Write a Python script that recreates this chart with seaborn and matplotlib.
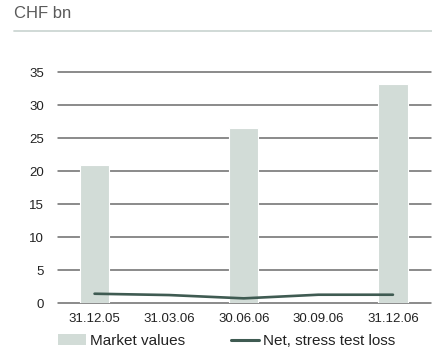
import numpy as np
import pandas as pd
import matplotlib
matplotlib.use("Agg")
import matplotlib.pyplot as plt
from matplotlib.lines import Line2D
from matplotlib.patches import Patch
import seaborn as sns

# Data (CHF bn)
dates = ["31.12.05", "31.03.06", "30.06.06", "30.09.06", "31.12.06"]
market_values = [20.9, np.nan, 26.5, np.nan, 33.3]
stress_loss = [1.45, 1.25, 0.75, 1.3, 1.3]
y_ticks = [0, 5, 10, 15, 20, 25, 30, 35]

bar_color = "#d2dcd7"
line_color = "#3f5b52"
grid_color = "#6b6b6b"
text_color = "#222222"

sns.set_theme(style="white")
plt.rcParams["font.family"] = ["Liberation Sans", "DejaVu Sans"]

df = pd.DataFrame({"date": dates, "market": market_values, "loss": stress_loss})
df["pos"] = np.arange(len(df))

fig = plt.figure(figsize=(4.32, 3.55), dpi=100)
ax = fig.add_axes([58 / 432, 1 - 303.3 / 355, 373 / 432, 231 / 355])

sns.barplot(data=df, x="date", y="market", color=bar_color, width=0.39,
            edgecolor="white", linewidth=0.8, saturation=1, ax=ax, zorder=2)
sns.lineplot(data=df, x="pos", y="loss", color=line_color, linewidth=1.9,
             ax=ax, zorder=3)

ax.set_xlim(-0.49, 4.51)
ax.set_ylim(0, 35)
ax.set_yticks(y_ticks)
ax.set_xticks(df["pos"])
ax.set_xticklabels(dates)
ax.set_xlabel("")
ax.set_ylabel("")

for s in ax.spines.values():
    s.set_visible(False)
ax.set_axisbelow(True)
ax.yaxis.grid(True, color=grid_color, linewidth=1.1)
for gl in ax.get_ygridlines():
    gl.set_clip_on(False)
ax.xaxis.grid(False)

ax.tick_params(axis="both", length=0, labelsize=9.5, colors=text_color)
ax.tick_params(axis="y", pad=10)
ax.tick_params(axis="x", pad=7)

# Header unit label and rule
fig.text(14 / 432, 1 - 13 / 355, "CHF bn", fontsize=12, color="#5a5a5a",
         ha="left", va="center")
fig.add_artist(Line2D([14 / 432, 1.0], [1 - 30.7 / 355] * 2,
                      color="#cdd7d3", linewidth=1.3, transform=fig.transFigure))

handles = [Patch(facecolor=bar_color, edgecolor="none"),
           Line2D([0], [0], color=line_color, linewidth=2.2)]
fig.legend(handles, ["Market values", "Net, stress test loss"], ncol=2,
           loc="center left", bbox_to_anchor=(58 / 432, 14 / 355),
           frameon=False, fontsize=11, handlelength=1.8, handleheight=0.7,
           handletextpad=0.3, columnspacing=3.0, borderpad=0, borderaxespad=0,
           labelcolor=text_color)

fig.savefig("out.png", dpi=100)
